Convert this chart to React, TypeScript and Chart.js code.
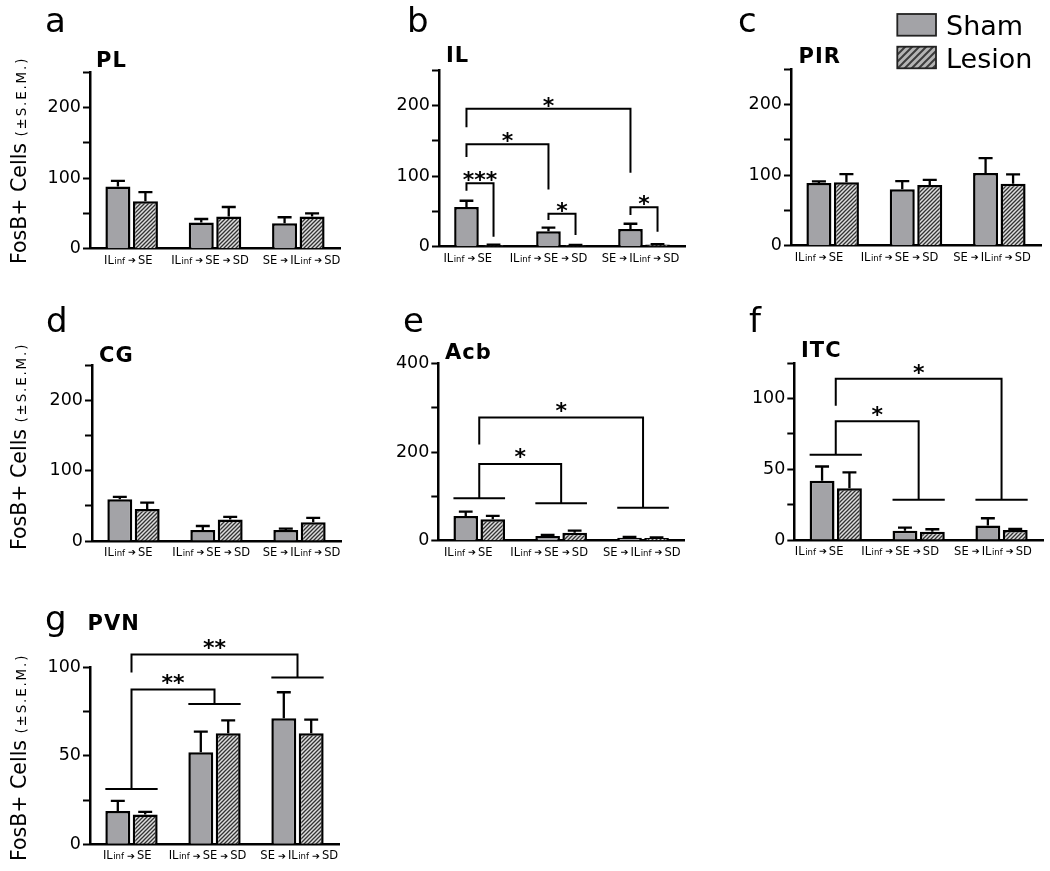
import React, { useEffect, useRef } from "react";
import { Chart, registerables } from "chart.js";

Chart.register(...registerables);

const FONT = "'DejaVu Sans', sans-serif";
Chart.defaults.font.family = FONT;

// ---------- data ----------
const categories = ["IL{inf}➔SE", "IL{inf}➔SE➔SD", "SE➔IL{inf}➔SD"];
const seriesNames = ["Sham", "Lesion"];
const yAxisTitleMain = "FosB+ Cells ";
const yAxisTitleSub = "(±S.E.M.)";

const ticks250 = [0, 100, 200];
const ticks400 = [0, 200, 400];
const ticks125 = [0, 50, 100];
const ticks100 = [0, 50, 100];

// a  PL
const plSham = [88, 37, 36];
const plShamErr = [8, 5, 8.5];
const plLesion = [67, 45.5, 45.5];
const plLesionErr = [13, 13.5, 4.5];

// b  IL
const ilSham = [56, 22, 25];
const ilShamErr = [9, 5, 7.5];
const ilLesion = [2, 2, 3];
const ilLesionErr = [1, 0.6, 0.6];
const ilBrackets = [
  { from: "s0", fromY: 79, to: "l0", toY: 14, top: 89.6, label: "***" },
  { from: "s1", fromY: 37.7, to: "l1", toY: 16.5, top: 46.7, label: "*" },
  { from: "s2", fromY: 44.8, to: "l2", toY: 21, top: 55.7, label: "*" },
  { from: "s0", fromY: 127, to: "s1", toY: 81, top: 145, label: "*" },
  { from: "s0", fromY: 169, to: "s2", toY: 104.7, top: 195, label: "*" },
];

// c  PIR
const pirSham = [88.7, 80, 103];
const pirShamErr = [2.3, 11.5, 21];
const pirLesion = [89.6, 85.8, 87.7];
const pirLesionErr = [11.8, 7.2, 13.3];

// d  CG
const cgSham = [59.5, 15.7, 15.7];
const cgShamErr = [3.5, 5.7, 1.9];
const cgLesion = [45.7, 30.5, 26.7];
const cgLesionErr = [9.1, 3.8, 6.2];

// e  Acb
const acbSham = [55.8, 10.6, 6.8];
const acbShamErr = [9.9, 2.2, 1.5];
const acbLesion = [48.3, 18, 6];
const acbLesionErr = [7.5, 4.6, 1.5];
const acbGroupLines = [95.5, 84.3, 74.4];
const acbBrackets = [
  { from: "g0", fromY: 95.5, to: "g1", toY: 84.3, top: 172.8, label: "*" },
  { from: "g0", fromY: 217, to: "g2", toY: 74.4, top: 277.7, label: "*" },
];

// f  ITC
const itcSham = [42, 6.6, 10.2];
const itcShamErr = [10, 2.1, 5.2];
const itcLesion = [36.6, 5.9, 7.1];
const itcLesionErr = [11.2, 1.7, 0.7];
const itcGroupLines = [60.3, 28.4, 28.4];
const itcBrackets = [
  { from: "g0", fromY: 60.3, to: "g1", toY: 28.4, top: 84, label: "*" },
  { from: "g0", fromY: 95, to: "g2", toY: 28.4, top: 114, label: "*" },
];

// g  PVN
const pvnSham = [18.8, 52, 71.2];
const pvnShamErr = [5.7, 11.7, 14.7];
const pvnLesion = [16.9, 62.7, 62.7];
const pvnLesionErr = [1.4, 7.3, 7.7];
const pvnGroupLines = [31.3, 79.3, 94.2];
const pvnBrackets = [
  { from: "g0", fromY: 31.3, to: "g1", toY: 79.3, top: 87.4, label: "**" },
  { from: "g0", fromY: 97, to: "g2", toY: 94.2, top: 107.2, label: "**" },
];

// ---------- layout ----------
const YW = 60;
const XH = 20;
const SHAM_FILL = "#a3a3a7";

type Bracket = { from: string; fromY: number; to: string; toY: number; top: number; label: string };
type Cfg = {
  letter: string; title: string;
  box: [number, number, number, number];
  axisX: number; rightX: number; topY: number; zeroY: number;
  yMax: number; yStep: number; yLabels: number[];
  sham: number[]; shamErr: number[]; lesion: number[]; lesionErr: number[];
  brackets: Bracket[]; groupLines: number[] | null;
  letterXY: [number, number]; titleXY: [number, number];
  yTitle?: [number, number]; legend?: boolean; starGap: number;
  labelShift: number[];
};

const panels: Cfg[] = [
  { letter: "a", title: "PL", box: [0, 0, 350, 290], axisX: 90, rightX: 340, topY: 72, zeroY: 248.7,
    yMax: 250, yStep: 50, yLabels: ticks250, sham: plSham, shamErr: plShamErr, lesion: plLesion, lesionErr: plLesionErr,
    brackets: [], groupLines: null, letterXY: [45, 32.3], titleXY: [96, 66.7], yTitle: [25.5, 264], starGap: 2,
    labelShift: [-3.4, -5, 3.2] },
  { letter: "b", title: "IL", box: [350, 0, 350, 290], axisX: 439, rightX: 685, topY: 70, zeroY: 246.7,
    yMax: 250, yStep: 50, yLabels: ticks250, sham: ilSham, shamErr: ilShamErr, lesion: ilLesion, lesionErr: ilLesionErr,
    brackets: ilBrackets, groupLines: null, letterXY: [407, 32.3], titleXY: [446, 61.7], starGap: 2,
    labelShift: [-12.3, -13.5, -3.5] },
  { letter: "c", title: "PIR", box: [700, 0, 350, 290], axisX: 791, rightX: 1041, topY: 69, zeroY: 245.7,
    yMax: 250, yStep: 50, yLabels: ticks250, sham: pirSham, shamErr: pirShamErr, lesion: pirLesion, lesionErr: pirLesionErr,
    brackets: [], groupLines: null, letterXY: [738, 32.3], titleXY: [798.5, 62.7], legend: true, starGap: 2,
    labelShift: [-13.7, -16.5, -7.3] },
  { letter: "d", title: "CG", box: [0, 290, 350, 290], axisX: 92, rightX: 341, topY: 365.6, zeroY: 541,
    yMax: 250, yStep: 50, yLabels: ticks250, sham: cgSham, shamErr: cgShamErr, lesion: cgLesion, lesionErr: cgLesionErr,
    brackets: [], groupLines: null, letterXY: [46, 331.7], titleXY: [99, 361.7], yTitle: [25.5, 550], starGap: 2,
    labelShift: [-5.2, -5.3, 2] },
  { letter: "e", title: "Acb", box: [350, 290, 350, 290], axisX: 438.3, rightX: 684, topY: 363.3, zeroY: 540.7,
    yMax: 400, yStep: 100, yLabels: ticks400, sham: acbSham, shamErr: acbShamErr, lesion: acbLesion, lesionErr: acbLesionErr,
    brackets: acbBrackets, groupLines: acbGroupLines, letterXY: [403, 331.7], titleXY: [445, 359.3], starGap: 6,
    labelShift: [-11, -12, -1.3] },
  { letter: "f", title: "ITC", box: [700, 290, 350, 290], axisX: 794.3, rightX: 1043, topY: 363.3, zeroY: 540,
    yMax: 125, yStep: 25, yLabels: ticks125, sham: itcSham, shamErr: itcShamErr, lesion: itcLesion, lesionErr: itcLesionErr,
    brackets: itcBrackets, groupLines: itcGroupLines, letterXY: [749, 331.7], titleXY: [801, 356.7], starGap: 5,
    labelShift: [-16.6, -18.5, -8.6] },
  { letter: "g", title: "PVN", box: [0, 580, 350, 291], axisX: 90, rightX: 339, topY: 667.3, zeroY: 844.3,
    yMax: 100, yStep: 25, yLabels: ticks100, sham: pvnSham, shamErr: pvnShamErr, lesion: pvnLesion, lesionErr: pvnLesionErr,
    brackets: pvnBrackets, groupLines: pvnGroupLines, letterXY: [45, 630], titleXY: [87.5, 630], yTitle: [25.5, 861], starGap: 6,
    labelShift: [-4.3, -7, 1.7] },
];

// ---------- helpers ----------
function makeHatch(size: number, bg: string, fg: string, lw: number) {
  const c = document.createElement("canvas");
  c.width = size;
  c.height = size;
  const x = c.getContext("2d")!;
  x.fillStyle = bg;
  x.fillRect(0, 0, size, size);
  x.strokeStyle = fg;
  x.lineWidth = lw;
  x.beginPath();
  x.moveTo(-1, size + 1);
  x.lineTo(size + 1, -1);
  x.moveTo(-size / 2 - 1, size / 2 + 1);
  x.lineTo(size / 2 + 1, -size / 2 - 1);
  x.moveTo(size / 2 - 1, size * 1.5 + 1);
  x.lineTo(size * 1.5 + 1, size / 2 - 1);
  x.stroke();
  return x.createPattern(c, "repeat")!;
}

function parseLabel(s: string) {
  const segs: { t: string; kind: "main" | "sub" | "arrow" }[] = [];
  const re = /\{([^}]*)\}|➔|[^{➔]+/g;
  let m: RegExpExecArray | null;
  while ((m = re.exec(s))) {
    if (m[1] !== undefined) segs.push({ t: m[1], kind: "sub" });
    else if (m[0] === "➔") segs.push({ t: "➔", kind: "arrow" });
    else segs.push({ t: m[0], kind: "main" });
  }
  return segs;
}

function drawCatLabel(ctx: CanvasRenderingContext2D, s: string, cx: number, baseY: number) {
  const segs = parseLabel(s);
  const fonts = { main: `11.5px ${FONT}`, sub: `8.5px ${FONT}`, arrow: `9.5px ${FONT}` };
  const gapBefore = { main: 0, sub: 0.5, arrow: 3 };
  const gapAfter = { main: 0, sub: 0, arrow: 2 };
  let total = 0;
  const widths = segs.map((g, i) => {
    ctx.font = fonts[g.kind];
    const w = ctx.measureText(g.t).width;
    const gb = i === 0 ? 0 : gapBefore[g.kind];
    const ga = i === segs.length - 1 ? 0 : gapAfter[g.kind];
    total += gb + w + ga;
    return [gb, w, ga];
  });
  let x = cx - total / 2;
  ctx.fillStyle = "#000";
  ctx.textAlign = "left";
  ctx.textBaseline = "alphabetic";
  segs.forEach((g, i) => {
    const [gb, w, ga] = widths[i];
    x += gb;
    ctx.font = fonts[g.kind];
    ctx.fillText(g.t, x, g.kind === "arrow" ? baseY - 0.5 : baseY);
    x += w + ga;
  });
}

function anchorX(chart: any, key: string) {
  const kind = key[0];
  const g = Number(key.slice(1));
  if (kind === "g") return chart.scales.x.getPixelForValue(g);
  return chart.getDatasetMeta(kind === "s" ? 0 : 1).data[g].x;
}

function overlayPlugin(cfg: Cfg) {
  const [L, T] = cfg.box;
  return {
    id: "overlay",
    afterDatasetsDraw(chart: any) {
      const ctx: CanvasRenderingContext2D = chart.ctx;
      const ys = chart.scales.y;
      ctx.save();
      ctx.strokeStyle = "#000";
      ctx.lineWidth = 2.3;
      [cfg.shamErr, cfg.lesionErr].forEach((errs, di) => {
        const meta = chart.getDatasetMeta(di);
        const vals = chart.data.datasets[di].data as number[];
        meta.data.forEach((bar: any, i: number) => {
          const x = bar.x;
          const w = bar.width;
          const y0 = ys.getPixelForValue(vals[i]);
          const y1 = ys.getPixelForValue(vals[i] + errs[i]);
          ctx.beginPath();
          ctx.moveTo(x, y0);
          ctx.lineTo(x, y1);
          ctx.moveTo(x - w * 0.28, y1);
          ctx.lineTo(x + w * 0.28, y1);
          ctx.stroke();
        });
      });
      ctx.restore();
    },
    afterDraw(chart: any) {
      const ctx: CanvasRenderingContext2D = chart.ctx;
      const ys = chart.scales.y;
      const xs = chart.scales.x;
      ctx.save();
      // group lines
      ctx.strokeStyle = "#000";
      ctx.lineWidth = 2;
      if (cfg.groupLines) {
        const m0 = chart.getDatasetMeta(0);
        const m1 = chart.getDatasetMeta(1);
        cfg.groupLines.forEach((v, g) => {
          const y = ys.getPixelForValue(v);
          const x0 = m0.data[g].x - m0.data[g].width / 2;
          const x1 = m1.data[g].x + m1.data[g].width / 2;
          ctx.beginPath();
          ctx.moveTo(x0, y);
          ctx.lineTo(x1, y);
          ctx.stroke();
        });
      }
      // brackets
      cfg.brackets.forEach((b) => {
        const xa = anchorX(chart, b.from);
        const xb = anchorX(chart, b.to);
        const ya = ys.getPixelForValue(b.fromY);
        const yb = ys.getPixelForValue(b.toY);
        const yt = ys.getPixelForValue(b.top);
        ctx.beginPath();
        ctx.moveTo(xa, ya);
        ctx.lineTo(xa, yt);
        ctx.lineTo(xb, yt);
        ctx.lineTo(xb, yb);
        ctx.stroke();
        ctx.font = `bold 22px ${FONT}`;
        ctx.fillStyle = "#000";
        ctx.textAlign = "center";
        ctx.textBaseline = "alphabetic";
        const desc = ctx.measureText("*").actualBoundingBoxDescent || -6;
        ctx.fillText(b.label, (xa + xb) / 2, yt - cfg.starGap - desc);
      });
      // category labels
      const zero = ys.getPixelForValue(0);
      categories.forEach((c, i) => {
        drawCatLabel(ctx, c, xs.getPixelForValue(i) + cfg.labelShift[i], zero + 14.8);
      });
      // panel letter
      ctx.fillStyle = "#000";
      ctx.textAlign = "left";
      ctx.textBaseline = "alphabetic";
      ctx.font = `34px ${FONT}`;
      ctx.fillText(cfg.letter, cfg.letterXY[0] - L, cfg.letterXY[1] - T);
      // title
      ctx.font = `bold 21px ${FONT}`;
      (ctx as any).letterSpacing = "1px";
      ctx.fillText(cfg.title, cfg.titleXY[0] - L, cfg.titleXY[1] - T);
      (ctx as any).letterSpacing = "0px";
      // y title
      if (cfg.yTitle) {
        ctx.save();
        ctx.translate(cfg.yTitle[0] - L, cfg.yTitle[1] - T);
        ctx.rotate(-Math.PI / 2);
        ctx.font = `20.5px ${FONT}`;
        ctx.fillText(yAxisTitleMain, 0, 0);
        const w = ctx.measureText(yAxisTitleMain).width;
        ctx.font = `13.5px ${FONT}`;
        (ctx as any).letterSpacing = "1.8px";
        ctx.fillText(yAxisTitleSub, w, 0);
        (ctx as any).letterSpacing = "0px";
        ctx.restore();
      }
      // legend
      if (cfg.legend) {
        const legendHatch = makeHatch(7, "#b4b4b4", "#3c3c3c", 2);
        const boxes: [number, number, any][] = [
          [14, 35.7, SHAM_FILL],
          [46.7, 68.3, legendHatch],
        ];
        boxes.forEach(([y0, y1, fill], i) => {
          const x0 = 897.3 - L;
          const x1 = 936 - L;
          ctx.fillStyle = fill;
          ctx.fillRect(x0, y0 - T, x1 - x0, y1 - y0);
          ctx.strokeStyle = "#222";
          ctx.lineWidth = 1.8;
          ctx.strokeRect(x0, y0 - T, x1 - x0, y1 - y0);
          ctx.fillStyle = "#000";
          ctx.font = `27px ${FONT}`;
          ctx.fillText(seriesNames[i], 946 - L, y1 - 0.5 - T);
        });
      }
      ctx.restore();
    },
  };
}

function Panel({ cfg }: { cfg: Cfg }) {
  const ref = useRef<HTMLCanvasElement>(null);
  useEffect(() => {
    const canvas = ref.current!;
    const [L, T, W, H] = cfg.box;
    const hatch = makeHatch(4, "#dedede", "#333333", 1.3);
    const chart = new Chart(canvas, {
      type: "bar",
      data: {
        labels: categories,
        datasets: [
          {
            label: seriesNames[0], data: cfg.sham, backgroundColor: SHAM_FILL, borderColor: "#000",
            borderWidth: 2.5, borderSkipped: "start", categoryPercentage: 0.66, barPercentage: 0.91,
          },
          {
            label: seriesNames[1], data: cfg.lesion, backgroundColor: hatch as any, borderColor: "#000",
            borderWidth: 2.5, borderSkipped: "start", categoryPercentage: 0.66, barPercentage: 0.91,
          },
        ],
      },
      options: {
        responsive: false,
        maintainAspectRatio: false,
        animation: false,
        events: [],
        layout: {
          padding: {
            left: cfg.axisX - L - YW,
            top: cfg.topY - T,
            right: L + W - cfg.rightX,
            bottom: T + H - cfg.zeroY - XH,
          },
        },
        plugins: { legend: { display: false }, tooltip: { enabled: false } },
        scales: {
          x: {
            type: "category",
            offset: true,
            z: 1,
            grid: { display: false },
            border: { display: true, color: "#000", width: 2.5 },
            ticks: { display: false },
            afterFit: (s: any) => { s.height = XH; },
          },
          y: {
            type: "linear",
            min: 0,
            max: cfg.yMax,
            grid: { drawOnChartArea: false, drawTicks: true, tickLength: 7, tickWidth: 2, tickColor: "#000", color: "#000" },
            border: { display: true, color: "#000", width: 2.5 },
            ticks: {
              stepSize: cfg.yStep,
              padding: 2,
              color: "#000",
              font: { size: 17.5, family: FONT },
              callback: (v: any) => (cfg.yLabels.includes(Number(v)) ? String(v) : ""),
            },
            afterFit: (s: any) => { s.width = YW; },
          },
        },
      } as any,
      plugins: [overlayPlugin(cfg)],
    });
    return () => chart.destroy();
  }, [cfg]);
  const [L, T, W, H] = cfg.box;
  return (
    <canvas
      ref={ref}
      width={W}
      height={H}
      style={{ position: "absolute", left: L, top: T, width: W, height: H }}
    />
  );
}

export default function App() {
  return (
    <div style={{ position: "absolute", left: 0, top: 0, width: 1050, height: 871, background: "#fff" }}>
      {panels.map((p) => (
        <Panel key={p.letter} cfg={p} />
      ))}
    </div>
  );
}
